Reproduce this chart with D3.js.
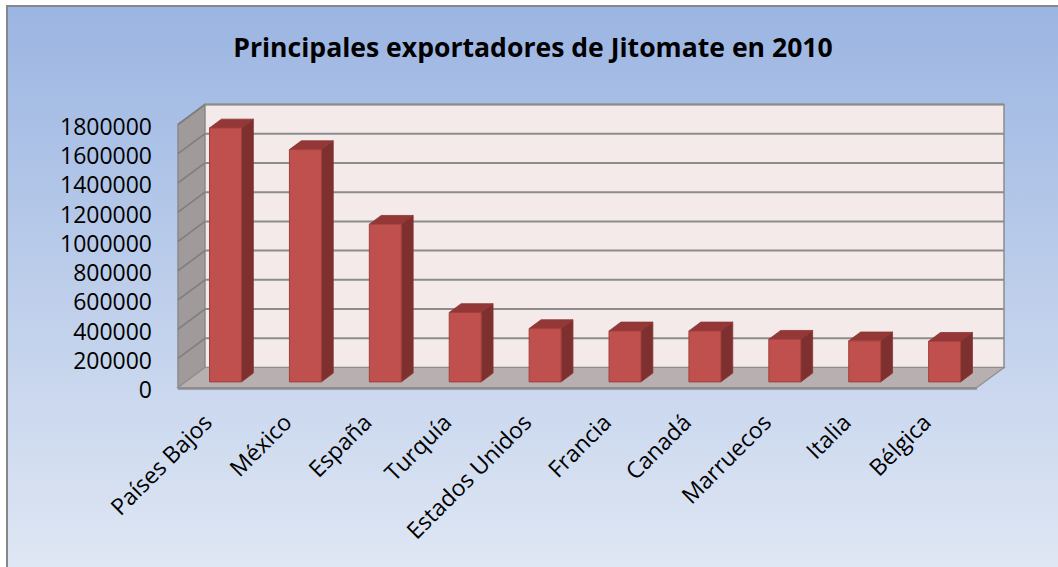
<!DOCTYPE html>
<html>
<head>
<meta charset="utf-8">
<script src="https://cdn.jsdelivr.net/npm/d3@7"></script>
<style>
  html, body { margin: 0; padding: 0; overflow: hidden; }
  svg { display: block; }
  text { font-family: "Open Sans", "Noto Sans", sans-serif; fill: #000; }
</style>
</head>
<body>
<svg id="chart" width="1058" height="567"></svg>
<script>
// Tomato exporters, 2010 (tonnes)
const categories = ["Países Bajos", "México", "España", "Turquía", "Estados Unidos",
                    "Francia", "Canadá", "Marruecos", "Italia", "Bélgica"];
const exports2010 = [1738000, 1590000, 1079000, 475000, 365000,
                     349000, 349000, 292000, 281000, 278000];
const yTicks = [0, 200000, 400000, 600000, 800000, 1000000, 1200000, 1400000, 1600000, 1800000];
const chartTitle = "Principales exportadores de Jitomate en 2010";

const W = 1058, H = 567;
const svg = d3.select("#chart");

// Oblique 3D projection: depth 0 = front plane, depth 1 = back wall
const depthX = 27, depthY = 20;
const yMax = 1800000;
const y = d3.scaleLinear().domain([0, yMax]).range([387.5, 124.5]);
const x = d3.scaleBand().domain(categories).range([178, 977])
  .paddingInner(0.6).paddingOuter(0.3);
const pt = (px, v, d) => [px + d * depthX, y(v) - d * depthY];
const poly = pts => pts.map(p => p.join(",")).join(" ");

// Background with vertical gradient
const defs = svg.append("defs");
const bg = defs.append("linearGradient").attr("id", "bgGrad")
  .attr("x1", 0).attr("y1", 0).attr("x2", 0).attr("y2", 1);
bg.append("stop").attr("offset", "0%").attr("stop-color", "#9bb5e2");
bg.append("stop").attr("offset", "100%").attr("stop-color", "#e1e8f4");

svg.append("rect").attr("x", 7).attr("y", 6).attr("width", W + 10).attr("height", H + 10)
  .attr("fill", "url(#bgGrad)").attr("stroke", "#878787").attr("stroke-width", 2);

const x0 = x.range()[0], x1 = x.range()[1];

// Left side wall
svg.append("polygon")
  .attr("points", poly([pt(x0, 0, 0), pt(x0, yMax, 0), pt(x0, yMax, 1), pt(x0, 0, 1)]))
  .attr("fill", "#a09b9a").attr("stroke", "#8a8a8a").attr("stroke-width", 1.5);

// Back wall
svg.append("polygon")
  .attr("points", poly([pt(x0, 0, 1), pt(x0, yMax, 1), pt(x1, yMax, 1), pt(x1, 0, 1)]))
  .attr("fill", "#f4eaea").attr("stroke", "#8c8c8c").attr("stroke-width", 1.5);

// Gridlines on the back wall and the side wall
const grid = svg.append("g");
yTicks.filter(v => v > 0).forEach(v => {
  const a = pt(x0, v, 0), b = pt(x0, v, 1), c = pt(x1, v, 1);
  grid.append("line").attr("x1", a[0]).attr("y1", a[1]).attr("x2", b[0]).attr("y2", b[1])
    .attr("stroke", "#7e7e7e").attr("stroke-width", 1.6);
  grid.append("line").attr("x1", b[0]).attr("y1", b[1]).attr("x2", c[0]).attr("y2", c[1])
    .attr("stroke", "#8c8c8c").attr("stroke-width", 2);
});

// Floor
svg.append("polygon")
  .attr("points", poly([pt(x0, 0, 0), pt(x1, 0, 0), pt(x1, 0, 1), pt(x0, 0, 1)]))
  .attr("fill", "#b8b0b0").attr("stroke", "#8e8e8e").attr("stroke-width", 1.2);
svg.append("line")
  .attr("x1", pt(x0, 0, 0)[0]).attr("y1", y(0) + 1).attr("x2", pt(x1, 0, 0)[0]).attr("y2", y(0) + 1)
  .attr("stroke", "#8c8c8c").attr("stroke-width", 2.5);

// Columns: front face, right side, top
const dFront = 0.28, dBack = 0.72;
const bars = svg.append("g");
categories.forEach((cat, i) => {
  const v = exports2010[i];
  const l = x(cat), r = x(cat) + x.bandwidth();
  const g = bars.append("g");
  g.append("polygon")
    .attr("points", poly([pt(r, 0, dFront), pt(r, v, dFront), pt(r, v, dBack), pt(r, 0, dBack)]))
    .attr("fill", "#7d302e").attr("stroke", "#8a3533").attr("stroke-width", 0.8);
  g.append("polygon")
    .attr("points", poly([pt(l, v, dFront), pt(r, v, dFront), pt(r, v, dBack), pt(l, v, dBack)]))
    .attr("fill", "#933836").attr("stroke", "#8a3533").attr("stroke-width", 0.8);
  g.append("polygon")
    .attr("points", poly([pt(l, 0, dFront), pt(l, v, dFront), pt(r, v, dFront), pt(r, 0, dFront)]))
    .attr("fill", "#c0504d").attr("stroke", "#a13f3c").attr("stroke-width", 1);
});

// Helper: size a text element so that its rendered width equals a target
function fitWidth(sel, target, base) {
  sel.attr("font-size", base);
  const w = sel.node().getComputedTextLength();
  sel.attr("font-size", base * target / w);
  return base * target / w;
}

// Value axis labels
const yAxisG = svg.append("g");
const probe = yAxisG.append("text").text("1800000").attr("x", -1000).attr("y", -1000);
const labelSize = fitWidth(probe, 92, 20);
probe.remove();
yTicks.forEach(v => {
  yAxisG.append("text")
    .attr("x", 152).attr("y", y(v) + 1.5)
    .attr("text-anchor", "end").attr("dominant-baseline", "central")
    .attr("font-size", labelSize)
    .text(v);
});

// Category labels, rotated 45°
const xAxisG = svg.append("g");
categories.forEach(cat => {
  const cx = x(cat) + x.bandwidth() / 2 - dFront * depthX + 3;
  xAxisG.append("text")
    .attr("transform", `translate(${cx},${424}) rotate(-45)`)
    .attr("text-anchor", "end")
    .attr("font-size", labelSize)
    .text(cat);
});

// Title
const title = svg.append("text")
  .attr("x", 533).attr("y", 57)
  .attr("text-anchor", "middle")
  .attr("font-weight", "bold")
  .text(chartTitle);
fitWidth(title, 600, 24);
</script>
</body>
</html>
